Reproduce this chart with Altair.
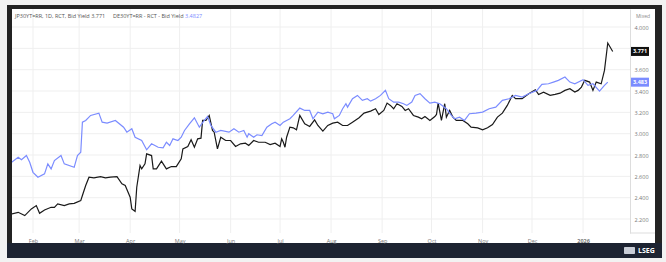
import altair as alt
import pandas as pd

# JP30YT=RR (black) – date, bid yield
jp30 = [
    ("2025-01-19", 2.248), ("2025-01-23", 2.263), ("2025-01-27", 2.232), ("2025-01-31", 2.295),
    ("2025-02-03", 2.326), ("2025-02-05", 2.254), ("2025-02-08", 2.285), ("2025-02-12", 2.310),
    ("2025-02-14", 2.310), ("2025-02-16", 2.342), ("2025-02-20", 2.326), ("2025-02-23", 2.342),
    ("2025-02-26", 2.347), ("2025-03-02", 2.373), ("2025-03-03", 2.420), ("2025-03-05", 2.514),
    ("2025-03-07", 2.592), ("2025-03-10", 2.586), ("2025-03-14", 2.598), ("2025-03-17", 2.586),
    ("2025-03-20", 2.592), ("2025-03-24", 2.598), ("2025-03-27", 2.530), ("2025-03-29", 2.514),
    ("2025-04-01", 2.404), ("2025-04-02", 2.295), ("2025-04-04", 2.272), ("2025-04-05", 2.498),
    ("2025-04-07", 2.701), ("2025-04-08", 2.670), ("2025-04-10", 2.717), ("2025-04-11", 2.811),
    ("2025-04-14", 2.795), ("2025-04-15", 2.670), ("2025-04-17", 2.670), ("2025-04-20", 2.742),
    ("2025-04-23", 2.670), ("2025-04-26", 2.692), ("2025-04-29", 2.692), ("2025-05-02", 2.764),
    ("2025-05-03", 2.858), ("2025-05-06", 2.880), ("2025-05-08", 2.943), ("2025-05-10", 2.873),
    ("2025-05-12", 2.952), ("2025-05-14", 2.958), ("2025-05-15", 3.124), ("2025-05-17", 3.124),
    ("2025-05-19", 3.171), ("2025-05-21", 3.030), ("2025-05-22", 3.014), ("2025-05-24", 2.858),
    ("2025-05-26", 2.967), ("2025-05-29", 2.936), ("2025-06-01", 2.936), ("2025-06-04", 2.880),
    ("2025-06-07", 2.905), ("2025-06-10", 2.911), ("2025-06-12", 2.889), ("2025-06-15", 2.936),
    ("2025-06-18", 2.920), ("2025-06-22", 2.920), ("2025-06-25", 2.898), ("2025-06-28", 2.911),
    ("2025-07-01", 2.880), ("2025-07-02", 2.952), ("2025-07-03", 2.920), ("2025-07-04", 2.873),
    ("2025-07-05", 2.967), ("2025-07-07", 3.061), ("2025-07-09", 3.055), ("2025-07-11", 3.036),
    ("2025-07-13", 3.171), ("2025-07-16", 3.093), ("2025-07-19", 3.068), ("2025-07-22", 3.130),
    ("2025-07-24", 3.077), ("2025-07-27", 3.024), ("2025-07-30", 3.077), ("2025-08-02", 3.099),
    ("2025-08-05", 3.108), ("2025-08-08", 3.077), ("2025-08-11", 3.077), ("2025-08-14", 3.108),
    ("2025-08-18", 3.149), ("2025-08-21", 3.193), ("2025-08-25", 3.212), ("2025-08-28", 3.234),
    ("2025-08-30", 3.180), ("2025-09-02", 3.218), ("2025-09-04", 3.287), ("2025-09-06", 3.265),
    ("2025-09-08", 3.234), ("2025-09-10", 3.281), ("2025-09-13", 3.256), ("2025-09-15", 3.218),
    ("2025-09-17", 3.234), ("2025-09-20", 3.171), ("2025-09-23", 3.155), ("2025-09-25", 3.140),
    ("2025-09-27", 3.161), ("2025-09-30", 3.124), ("2025-10-03", 3.161), ("2025-10-04", 3.180),
    ("2025-10-05", 3.287), ("2025-10-07", 3.124), ("2025-10-09", 3.281), ("2025-10-10", 3.155),
    ("2025-10-12", 3.218), ("2025-10-14", 3.155), ("2025-10-16", 3.124), ("2025-10-20", 3.124),
    ("2025-10-23", 3.093), ("2025-10-25", 3.061), ("2025-10-29", 3.055), ("2025-11-01", 3.036),
    ("2025-11-04", 3.055), ("2025-11-07", 3.086), ("2025-11-10", 3.155), ("2025-11-13", 3.193),
    ("2025-11-16", 3.265), ("2025-11-19", 3.359), ("2025-11-21", 3.328), ("2025-11-25", 3.328),
    ("2025-11-29", 3.375), ("2025-12-03", 3.412), ("2025-12-05", 3.368), ("2025-12-08", 3.390),
    ("2025-12-12", 3.359), ("2025-12-15", 3.368), ("2025-12-18", 3.380), ("2025-12-21", 3.406),
    ("2025-12-24", 3.422), ("2025-12-27", 3.390), ("2025-12-29", 3.406), ("2025-12-31", 3.437),
    ("2026-01-02", 3.500), ("2026-01-05", 3.484), ("2026-01-07", 3.406), ("2026-01-09", 3.484),
    ("2026-01-12", 3.468), ("2026-01-14", 3.593), ("2026-01-16", 3.850), ("2026-01-19", 3.771),
]

# DE30YT=RR (blue) – date, bid yield
de30 = [
    ("2025-01-19", 2.732), ("2025-01-23", 2.779), ("2025-01-25", 2.755), ("2025-01-28", 2.795),
    ("2025-01-30", 2.732), ("2025-02-01", 2.638), ("2025-02-04", 2.592), ("2025-02-08", 2.623),
    ("2025-02-10", 2.717), ("2025-02-12", 2.670), ("2025-02-14", 2.748), ("2025-02-18", 2.795),
    ("2025-02-20", 2.717), ("2025-02-26", 2.685), ("2025-02-28", 2.795), ("2025-03-02", 2.826),
    ("2025-03-03", 3.108), ("2025-03-05", 3.124), ("2025-03-08", 3.171), ("2025-03-13", 3.193),
    ("2025-03-15", 3.108), ("2025-03-18", 3.099), ("2025-03-23", 3.124), ("2025-03-28", 3.061),
    ("2025-03-30", 3.014), ("2025-04-02", 3.046), ("2025-04-04", 2.967), ("2025-04-08", 2.936),
    ("2025-04-11", 2.849), ("2025-04-14", 2.905), ("2025-04-18", 2.873), ("2025-04-21", 2.867),
    ("2025-04-23", 2.920), ("2025-04-25", 2.889), ("2025-04-27", 2.952), ("2025-04-30", 2.936),
    ("2025-05-02", 2.967), ("2025-05-04", 3.030), ("2025-05-07", 3.093), ("2025-05-10", 3.149),
    ("2025-05-13", 3.061), ("2025-05-16", 3.124), ("2025-05-18", 3.161), ("2025-05-20", 3.077),
    ("2025-05-23", 3.014), ("2025-05-26", 3.030), ("2025-05-31", 3.014), ("2025-06-03", 3.046),
    ("2025-06-06", 3.014), ("2025-06-09", 3.030), ("2025-06-11", 2.967), ("2025-06-12", 3.000),
    ("2025-06-15", 2.967), ("2025-06-17", 2.990), ("2025-06-20", 2.983), ("2025-06-23", 3.061),
    ("2025-06-26", 3.093), ("2025-06-28", 3.108), ("2025-07-01", 3.077), ("2025-07-03", 3.108),
    ("2025-07-07", 3.140), ("2025-07-09", 3.171), ("2025-07-13", 3.240), ("2025-07-16", 3.218),
    ("2025-07-19", 3.218), ("2025-07-21", 3.140), ("2025-07-24", 3.202), ("2025-07-27", 3.187),
    ("2025-07-30", 3.202), ("2025-08-02", 3.187), ("2025-08-03", 3.140), ("2025-08-06", 3.171),
    ("2025-08-08", 3.234), ("2025-08-10", 3.281), ("2025-08-11", 3.249), ("2025-08-14", 3.328),
    ("2025-08-17", 3.359), ("2025-08-20", 3.312), ("2025-08-23", 3.328), ("2025-08-25", 3.305),
    ("2025-08-28", 3.328), ("2025-08-31", 3.359), ("2025-09-03", 3.406), ("2025-09-05", 3.328),
    ("2025-09-08", 3.296), ("2025-09-11", 3.296), ("2025-09-14", 3.281), ("2025-09-16", 3.265),
    ("2025-09-19", 3.296), ("2025-09-21", 3.359), ("2025-09-24", 3.375), ("2025-09-27", 3.328),
    ("2025-09-30", 3.287), ("2025-10-03", 3.296), ("2025-10-06", 3.281), ("2025-10-10", 3.234),
    ("2025-10-13", 3.171), ("2025-10-15", 3.140), ("2025-10-18", 3.155), ("2025-10-21", 3.124),
    ("2025-10-24", 3.187), ("2025-10-28", 3.193), ("2025-11-01", 3.202), ("2025-11-05", 3.234),
    ("2025-11-09", 3.249), ("2025-11-13", 3.312), ("2025-11-17", 3.328), ("2025-11-21", 3.359),
    ("2025-11-25", 3.343), ("2025-11-29", 3.375), ("2025-12-04", 3.406), ("2025-12-07", 3.462),
    ("2025-12-11", 3.468), ("2025-12-14", 3.484), ("2025-12-17", 3.500), ("2025-12-21", 3.531),
    ("2025-12-24", 3.484), ("2025-12-27", 3.468), ("2026-01-01", 3.506), ("2026-01-04", 3.453),
    ("2026-01-07", 3.468), ("2026-01-11", 3.399), ("2026-01-14", 3.453), ("2026-01-16", 3.483),
]

y_ticks = [2.2, 2.4, 2.6, 2.8, 3.0, 3.2, 3.4, 3.6, 3.8, 4.0]
y_axis_values = [2.2, 2.4, 2.6, 2.8, 3.0, 3.2, 3.4, 3.6, 4.0]
month_starts = ["2025-02-01", "2025-03-01", "2025-04-01", "2025-05-01", "2025-06-01",
                "2025-07-01", "2025-08-01", "2025-09-01", "2025-10-01", "2025-11-01",
                "2025-12-01", "2026-01-01"]
box_values = [3.771, 3.483]
box_labels = ["3.771", "3.483"]
box_colors = ["#111111", "#7b8cff"]

BLACK = "#1a1a1a"
BLUE = "#7b8cff"
FONT = "Open Sans"

df = pd.DataFrame(
    [{"date": d, "val": v, "series": "JP30YT=RR"} for d, v in jp30]
    + [{"date": d, "val": v, "series": "DE30YT=RR"} for d, v in de30]
)
grid_y = pd.DataFrame({"val": y_ticks})
grid_x = pd.DataFrame({"date": month_starts})
boxes = pd.DataFrame({"val": box_values, "label": box_labels, "color": box_colors})
one = pd.DataFrame({"a": [0]})

x_scale = alt.Scale(
    type="utc",
    domain=[alt.DateTime(year=2025, month=1, date=19, hours=6, utc=True),
            alt.DateTime(year=2026, month=1, date=29, hours=12, utc=True)],
)
y_scale = alt.Scale(domain=[2.069, 4.169], nice=False, zero=False)

x_axis = alt.Axis(
    title=None, grid=False, ticks=False, domain=False, zindex=1,
    tickCount={"interval": "month", "step": 1}, labelAlign="center", labelFlush=False,
    labelExpr="utcmonth(datum.value)==0 ? utcFormat(datum.value,'%Y') : utcFormat(datum.value,'%b')",
    labelFontWeight={"condition": {"test": "utcmonth(datum.value)==0", "value": "bold"}, "value": "normal"},
    labelColor="#777777", labelFontSize=5.5, labelFont=FONT, labelPadding=5,
)
y_axis = alt.Axis(
    title=None, grid=False, ticks=False, domain=True, domainColor="#dddddd", zindex=1,
    orient="right", values=y_axis_values, format=".3f",
    labelColor="#777777", labelFontSize=5.5, labelFont=FONT, labelPadding=4,
)

# Frame / background decoration
frame_dark = alt.Chart(one).mark_rect(color="#232323").encode(
    x=alt.value(-5), x2=alt.value(650), y=alt.value(-4), y2=alt.value(249))
frame_bottom = alt.Chart(one).mark_rect(color="#1d2331").encode(
    x=alt.value(-5), x2=alt.value(650), y=alt.value(234), y2=alt.value(249))
inner_white = alt.Chart(one).mark_rect(color="#ffffff").encode(
    x=alt.value(0), x2=alt.value(643), y=alt.value(0), y2=alt.value(234))
axis_corner = alt.Chart(one).mark_rule(color="#dddddd", strokeWidth=1).encode(
    x=alt.value(618), x2=alt.value(643), y=alt.value(224))
logo_icon = alt.Chart(one).mark_rect(color="#c9cdd6", cornerRadius=1).encode(
    x=alt.value(612), x2=alt.value(623), y=alt.value(238), y2=alt.value(245))

hgrid = alt.Chart(grid_y).mark_rule(color="#efefef", strokeWidth=1).encode(
    y=alt.Y("val:Q", scale=y_scale, axis=y_axis))
vgrid = alt.Chart(grid_x).mark_rule(color="#efefef", strokeWidth=1).encode(
    x=alt.X("date:T", scale=x_scale, axis=x_axis))

lines = alt.Chart(df).mark_line(strokeWidth=1.2, clip=True).encode(
    x=alt.X("date:T", scale=x_scale, axis=x_axis),
    y=alt.Y("val:Q", scale=y_scale, axis=y_axis),
    color=alt.Color("series:N", scale=alt.Scale(domain=["JP30YT=RR", "DE30YT=RR"], range=[BLACK, BLUE]), legend=None),
    order=alt.Order("series:N", sort="ascending"),
)

box_rect = alt.Chart(boxes).mark_rect(yOffset=-4.5, y2Offset=4.5).encode(
    x=alt.value(619), x2=alt.value(637),
    y=alt.Y("val:Q", scale=y_scale, axis=y_axis), y2="val:Q",
    color=alt.Color("color:N", scale=None),
)
box_text = alt.Chart(boxes).mark_text(font=FONT, fontSize=5.5, color="white", fontWeight="bold").encode(
    x=alt.value(628), y=alt.Y("val:Q", scale=y_scale, axis=y_axis), text="label:N")

leg1 = alt.Chart(one).mark_text(text="JP30YT=RR, 1D, RCT, Bid Yield  3.771", font=FONT, fontSize=5.5,
                                color="#555555", align="left", baseline="middle").encode(
    x=alt.value(3), y=alt.value(7))
leg2 = alt.Chart(one).mark_text(text="DE30YT=RR - RCT - Bid Yield", font=FONT, fontSize=5.5,
                                color="#555555", align="left", baseline="middle").encode(
    x=alt.value(101), y=alt.value(7))
leg3 = alt.Chart(one).mark_text(text="3.4827", font=FONT, fontSize=5.5,
                                color=BLUE, align="left", baseline="middle").encode(
    x=alt.value(173), y=alt.value(7))
mixed = alt.Chart(one).mark_text(text="Mixed", font=FONT, fontSize=5, color="#888888",
                                 align="center", baseline="middle").encode(
    x=alt.value(631), y=alt.value(7))
lseg = alt.Chart(one).mark_text(text="LSEG", font=FONT, fontSize=7, fontWeight="bold", color="#ffffff",
                                align="left", baseline="middle").encode(
    x=alt.value(626), y=alt.value(241.5))

chart = alt.layer(
    frame_dark, frame_bottom, inner_white, axis_corner, logo_icon, hgrid, vgrid, lines,
    box_rect, box_text, leg1, leg2, leg3, mixed, lseg,
).resolve_scale(color="independent").properties(
    width=618, height=224,
    padding={"left": 12, "top": 9, "right": 36, "bottom": 29},
    autosize="none",
).configure(background="#f2f2f2").configure_view(stroke=None)

chart.save("out.html", embed_options={"renderer": "svg", "actions": False})
